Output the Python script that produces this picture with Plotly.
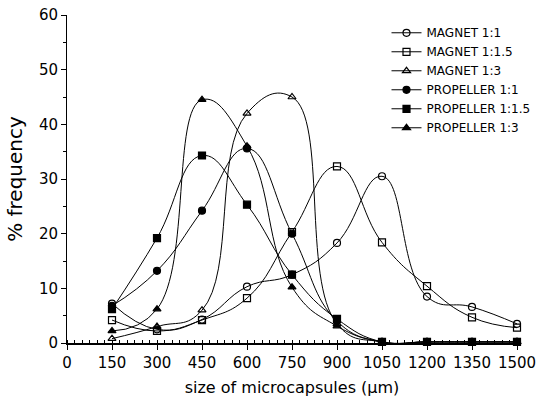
import plotly.graph_objects as go

sizes = [150, 300, 450, 600, 750, 900, 1050, 1200, 1350, 1500]

magnet_1_1 = [7.2, 2.5, 4.3, 10.3, 12.5, 18.3, 30.5, 8.5, 6.6, 3.5]
magnet_1_1_5 = [4.2, 2.2, 4.2, 8.2, 20.3, 32.3, 18.4, 10.4, 4.7, 2.8]
magnet_1_3 = [0.8, 3.0, 6.0, 42.0, 45.0, 3.5, 0.2, 0.2, 0.2, 0.2]
propeller_1_1 = [6.8, 13.2, 24.2, 35.6, 20.0, 4.0, 0.2, 0.2, 0.2, 0.2]
propeller_1_1_5 = [6.2, 19.2, 34.3, 25.3, 12.5, 4.4, 0.2, 0.2, 0.2, 0.2]
propeller_1_3 = [2.2, 6.2, 44.5, 36.0, 10.2, 3.1, 0.2, 0.2, 0.2, 0.2]

series_names = ["MAGNET 1:1", "MAGNET 1:1.5", "MAGNET 1:3",
                "PROPELLER 1:1", "PROPELLER 1:1.5", "PROPELLER 1:3"]
series_values = [magnet_1_1, magnet_1_1_5, magnet_1_3,
                 propeller_1_1, propeller_1_1_5, propeller_1_3]
symbols = ["circle-open", "square-open", "triangle-up-open",
           "circle", "square", "triangle-up"]

x_ticks = [0, 150, 300, 450, 600, 750, 900, 1050, 1200, 1350, 1500]
y_ticks = [0, 10, 20, 30, 40, 50, 60]

fig = go.Figure()
for name, vals, sym in zip(series_names, series_values, symbols):
    fig.add_trace(go.Scatter(
        x=sizes, y=vals, name=name, mode="lines+markers",
        line=dict(color="black", width=1, shape="spline", smoothing=1.3),
        marker=dict(symbol=sym, size=7, color="black",
                    line=dict(color="black", width=1.2)),
        cliponaxis=False,
    ))

font_family = "DejaVu Sans"
fig.update_layout(
    width=545, height=403,
    margin=dict(l=67, r=28, t=15, b=60, autoexpand=False),
    paper_bgcolor="white", plot_bgcolor="white",
    font=dict(family=font_family, color="black", size=14),
    showlegend=True,
    legend=dict(x=0.71, y=0.99, xanchor="left", yanchor="top",
                font=dict(size=12, family=font_family),
                bgcolor="rgba(0,0,0,0)", itemwidth=30, tracegroupgap=0),
    xaxis=dict(range=[0, 1500], tickvals=x_ticks,
               ticktext=[str(t) for t in x_ticks],
               showgrid=False, zeroline=False, showline=True,
               linecolor="black", linewidth=1.5, automargin=False,
               ticks="outside", ticklen=5, tickcolor="black",
               minor=dict(dtick=25, ticks="inside", ticklen=3,
                          tickcolor="black", showgrid=False),
               tickfont=dict(size=15),
               title=dict(text="size of microcapsules (μm)",
                          font=dict(size=16), standoff=11)),
    yaxis=dict(range=[0, 60], tickvals=y_ticks,
               showgrid=False, zeroline=False, showline=True,
               linecolor="black", linewidth=1, automargin=False,
               ticks="outside", ticklen=5, tickcolor="black",
               minor=dict(dtick=5, ticks="outside", ticklen=3,
                          tickcolor="black", showgrid=False),
               tickfont=dict(size=15),
               title=dict(text="% frequency", font=dict(size=20),
                          standoff=10)),
)

fig.write_html("out.html")
